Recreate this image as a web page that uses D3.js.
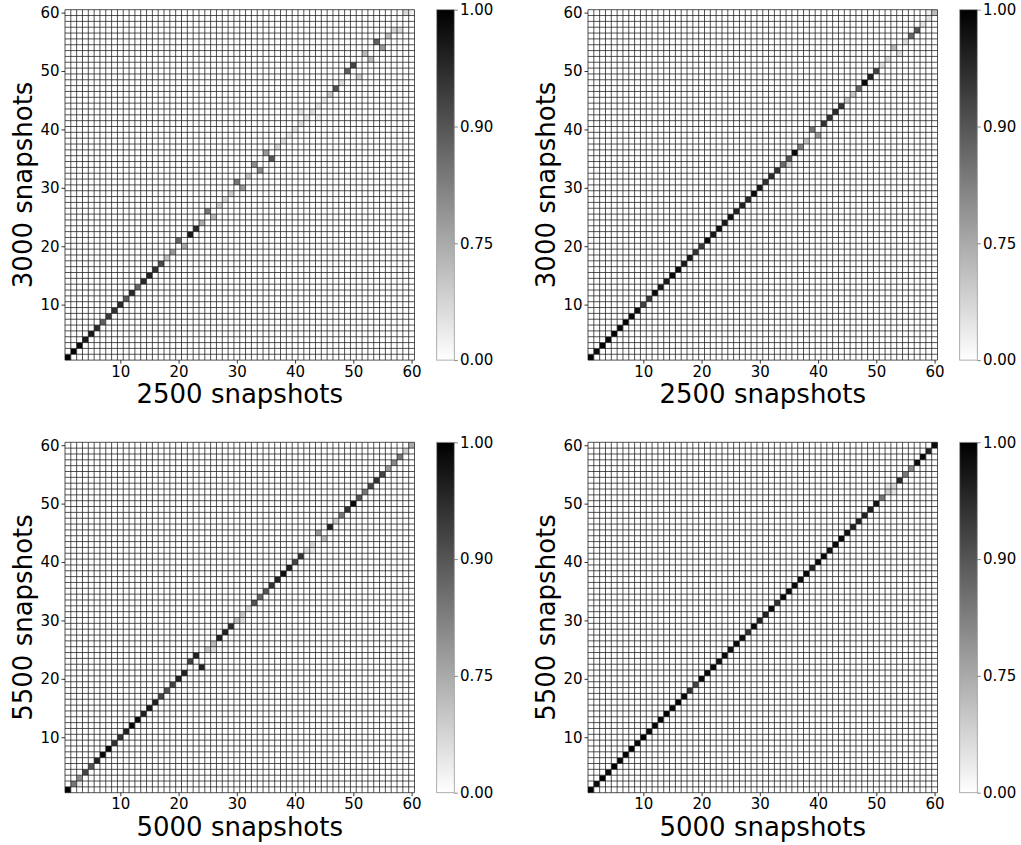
<!DOCTYPE html>
<html>
<head>
<meta charset="utf-8">
<script src="https://cdn.jsdelivr.net/npm/d3@7"></script>
<style>
  body { margin: 0; background: #fff; }
  text { font-family: "DejaVu Sans", sans-serif; fill: #000; }
</style>
</head>
<body>
<svg id="chart" width="1021" height="845"></svg>
<script>
var N = 60;
var axisTicks = [10, 20, 30, 40, 50, 60];
var cbarTicks = [0, 0.75, 0.90, 1.00];

var xLabels = ["2500 snapshots", "2500 snapshots", "5000 snapshots", "5000 snapshots"];
var yLabels = ["3000 snapshots", "3000 snapshots", "5500 snapshots", "5500 snapshots"];

// diagonal values, mode 1..60
var diagTL = [1.00,1.00,0.99,0.97,0.97,0.95,0.88,0.93,0.94,0.95,
              0.89,0.95,0.87,0.95,0.96,0.94,0.91,0.55,0.78,0,
              0,0.97,0.95,0.72,0,0,0.45,0.35,0.45,0,
              0,0.55,0,0,0,0,0.40,0.30,0.20,0.25,
              0.30,0.20,0.30,0.25,0.20,0.50,0.90,0.30,0,0,
              0,0,0,0,0,0.60,0.35,0,0,0.15];
// off-diagonal cells: [x mode, y mode, value]
var offTL = [[20,21,0.87],[21,20,0.75],[25,26,0.84],[26,25,0.60],[30,31,0.84],[31,30,0.78],
             [33,34,0.80],[34,33,0.80],[35,36,0.78],[36,35,0.90],[41,43,0.25],[44,42,0.15],
             [49,50,0.88],[50,51,0.92],[51,49,0.45],[52,53,0.60],[53,52,0.60],[54,55,0.88],
             [55,54,0.78],[58,57,0.30],[59,60,0.35]];

var diagTR = [1.00,0.99,1.00,0.99,1.00,0.99,1.00,0.99,0.98,0.92,
              0.93,0.99,0.97,0.97,0.99,0.99,0.97,0.97,0.94,0.93,
              0.99,0.97,0.98,0.97,0.98,0.96,0.96,0.95,0.99,0.97,
              0.94,0.95,0.94,0.86,0.90,0.99,0.82,0.55,0,0,
              0.94,0.94,0.95,0.94,0.50,0.50,0.87,0.99,0.96,0.92,
              0.30,0.35,0,0,0.30,0.87,0.90,0.25,0.25,0.60];
var offTR = [[35,34,0.35],[39,40,0.84],[40,39,0.78],[53,54,0.60],[54,53,0.30],[59,60,0.15]];

var diagBL = [1.00,0.84,0.80,0.92,0.90,0.96,0.99,0.99,0.94,0.94,
              0.96,0.99,0.99,0.96,0.97,0.96,0.92,0.90,0.92,0.96,
              0.96,0,0,0,0.50,0.60,0.96,0.96,0.95,0.55,
              0.50,0.35,0.90,0.87,0.90,0.94,0.96,0.98,0.96,0.92,
              0.94,0.30,0.35,0,0,0.96,0.45,0.84,0.94,0.99,
              0.90,0.84,0.92,0.94,0.92,0.78,0.81,0.84,0.45,0.75];
var offBL = [[3,2,0.20],[22,23,0.92],[23,24,0.96],[24,22,0.96],[26,25,0.30],[31,30,0.30],
             [43,42,0.20],[44,45,0.78],[45,44,0.60]];

var diagBR = [1.00,0.99,1.00,0.99,1.00,0.99,1.00,1.00,0.99,1.00,
              0.99,1.00,0.99,1.00,0.99,1.00,0.99,0.94,0.92,0.99,
              0.99,0.99,0.98,0.99,0.98,0.99,0.98,0.94,0.99,0.96,
              0.96,0.99,0.94,0.99,0.99,0.99,0.98,0.99,0.96,0.99,
              0.99,0.98,0.99,0.99,0.98,0.96,0.96,0.96,0.96,0.98,
              0.84,0.45,0.35,0.95,0.84,0.81,0.99,0.99,0.96,0.99];
var offBR = [[52,53,0.20],[53,52,0.25]];

var svg = d3.select("#chart");
var axW = 349.5, axH = 350.4;

var panels = [
    {diag: diagTL, off: offTL, left: 65, top: 9.7},
    {diag: diagTR, off: offTR, left: 588, top: 9.7},
    {diag: diagBL, off: offBL, left: 65, top: 442.3},
    {diag: diagBR, off: offBR, left: 588, top: 442.3}
];

var color = d3.scaleLinear()
        .domain(cbarTicks)
        .range(["#ffffff", "#aaaaaa", "#555555", "#000000"])
        .clamp(true);

var x = d3.scaleLinear().domain([0.5, N + 0.5]).range([0, axW]);
var y = d3.scaleLinear().domain([0.5, N + 0.5]).range([axH, 0]);
var cbY = d3.scaleLinear().domain(cbarTicks)
        .range(cbarTicks.map(function (d, i) { return axH * (1 - i / (cbarTicks.length - 1)); }));

// gradient for the colour bar
var grad = svg.append("defs").append("linearGradient")
        .attr("id", "cbgrad").attr("x1", 0).attr("y1", 1).attr("x2", 0).attr("y2", 0);
grad.selectAll("stop").data(cbarTicks).enter().append("stop")
        .attr("offset", function (d, i) { return i / (cbarTicks.length - 1); })
        .attr("stop-color", function (d) { return color(d); });

panels.forEach(function (p, pi) {
    // full 60x60 matrix, zero everywhere except diagonal / listed cells
    var cells = [];
    for (var j = 1; j <= N; j++) {
        for (var i = 1; i <= N; i++) {
            cells.push({i: i, j: j, v: i === j ? p.diag[i - 1] : 0});
        }
    }
    p.off.forEach(function (o) {
        cells[(o[1] - 1) * N + (o[0] - 1)].v = o[2];
    });

    var g = svg.append("g").attr("transform", "translate(" + p.left + "," + p.top + ")");

    g.selectAll("rect.cell").data(cells).enter().append("rect")
            .attr("class", "cell")
            .attr("x", function (d) { return x(d.i - 0.5); })
            .attr("y", function (d) { return y(d.j + 0.5); })
            .attr("width", x(1.5) - x(0.5))
            .attr("height", y(0.5) - y(1.5))
            .attr("fill", function (d) { return color(d.v); });

    var edges = d3.range(0.5, N + 1, 1);
    g.selectAll("line.vg").data(edges).enter().append("line")
            .attr("x1", function (d) { return x(d); })
            .attr("x2", function (d) { return x(d); })
            .attr("y1", 0).attr("y2", axH)
            .attr("stroke", "#1a1a1a").attr("stroke-width", 0.75);
    g.selectAll("line.hg").data(edges).enter().append("line")
            .attr("y1", function (d) { return y(d); })
            .attr("y2", function (d) { return y(d); })
            .attr("x1", 0).attr("x2", axW)
            .attr("stroke", "#1a1a1a").attr("stroke-width", 0.75);

    var xa = g.append("g").attr("transform", "translate(0," + axH + ")")
            .call(d3.axisBottom(x).tickValues(axisTicks).tickSize(3.5).tickPadding(2.5));
    var ya = g.append("g")
            .call(d3.axisLeft(y).tickValues(axisTicks).tickSize(3.5).tickPadding(2));
    [xa, ya].forEach(function (a) {
        a.select(".domain").remove();
        a.selectAll("line").attr("stroke", "#000").attr("stroke-width", 0.8);
        a.selectAll("text").style("font-size", "15px").style("font-family", "DejaVu Sans");
    });

    g.append("text")
            .attr("x", axW / 2).attr("y", axH + 43)
            .attr("text-anchor", "middle")
            .style("font-size", "26px")
            .text(xLabels[pi]);
    g.append("text")
            .attr("transform", "translate(-33," + (axH / 2) + ") rotate(-90)")
            .attr("text-anchor", "middle")
            .style("font-size", "26px")
            .text(yLabels[pi]);

    // colour bar
    var cb = g.append("g").attr("transform", "translate(" + (axW + 22.2) + ",0)");
    cb.append("rect")
            .attr("width", 17.6).attr("height", axH)
            .attr("fill", "url(#cbgrad)")
            .attr("stroke", "#999").attr("stroke-width", 0.8);
    var ca = cb.append("g").attr("transform", "translate(17.6,0)")
            .call(d3.axisRight(cbY).tickValues(cbarTicks).tickFormat(d3.format(".2f"))
                    .tickSize(3.5).tickPadding(2.2));
    ca.select(".domain").remove();
    ca.selectAll("line").attr("stroke", "#666").attr("stroke-width", 0.8);
    ca.selectAll("text").style("font-size", "15px").style("font-family", "DejaVu Sans");
});
</script>
</body>
</html>
